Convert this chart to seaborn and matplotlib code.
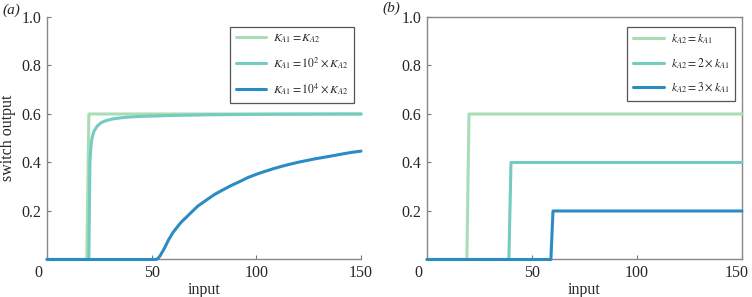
import numpy as np
import pandas as pd
import matplotlib
matplotlib.use("Agg")
import matplotlib.pyplot as plt
import matplotlib.transforms as mtransforms
import seaborn as sns

# ---- data ----
a_green_x = [0, 19, 20, 150]
a_green_y = [0, 0, 0.6, 0.6]
a_teal_x = [0, 20, 20.5, 21.0, 21.6, 22.5, 24, 26, 28, 31, 35, 40, 45, 60, 80, 110, 150]
a_teal_y = [0, 0, 0.40, 0.47, 0.505, 0.53, 0.55, 0.565, 0.572, 0.579, 0.584, 0.588, 0.59, 0.594, 0.597, 0.599, 0.6]
a_blue_x = [0, 52, 53, 54, 56, 58, 60.3, 64, 68.3, 72, 76.3, 80, 84, 88, 92.2, 96, 100.2,
            104, 108, 112, 116.1, 120, 124, 128, 132, 136, 141, 145, 150]
a_blue_y = [0, 0, 0.004, 0.015, 0.045, 0.08, 0.113, 0.153, 0.189, 0.22, 0.246, 0.268, 0.287,
            0.305, 0.322, 0.338, 0.352, 0.363, 0.374, 0.384, 0.393, 0.401, 0.408, 0.415,
            0.421, 0.427, 0.435, 0.441, 0.447]

b_green_x = [0, 19, 20, 150]
b_green_y = [0, 0, 0.6, 0.6]
b_teal_x = [0, 39, 40, 150]
b_teal_y = [0, 0, 0.4, 0.4]
b_blue_x = [0, 59, 60, 150]
b_blue_y = [0, 0, 0.2, 0.2]

labels_a = [r"$K_{A1} = K_{A2}$", r"$K_{A1} = 10^2 \times K_{A2}$", r"$K_{A1} = 10^4 \times K_{A2}$"]
labels_b = [r"$k_{A2} = k_{A1}$", r"$k_{A2} = 2 \times k_{A1}$", r"$k_{A2} = 3 \times k_{A1}$"]
xticks = [0, 50, 100, 150]
yticks = [0.2, 0.4, 0.6, 0.8, 1.0]
colors = ["#a8ddb5", "#74cbc0", "#2b8cc4"]

sns.set_style("ticks")
plt.rcParams["font.family"] = ["Liberation Serif", "DejaVu Serif"]
plt.rcParams["mathtext.fontset"] = "stix"

fig = plt.figure(figsize=(7.52, 2.97), dpi=100)
ax1 = fig.add_axes([0.0625, 0.1263, 0.4176, 0.8165])
ax2 = fig.add_axes([0.5678, 0.1263, 0.4189, 0.8165])

def shift_label(ax, idx, dx_px):
    off = mtransforms.ScaledTranslation(dx_px / 100, 0, fig.dpi_scale_trans)
    lbl = ax.get_xticklabels()[idx]
    lbl.set_transform(lbl.get_transform() + off)

def draw(ax, series, labels, box):
    for (xs, ys), lab, c in zip(series, labels, colors):
        df = pd.DataFrame({"input": xs, "out": ys})
        sns.lineplot(data=df, x="input", y="out", ax=ax, color=c, lw=2.2,
                     label=lab, sort=False, clip_on=False, zorder=3)
    ax.set_xlim(0, 150)
    ax.set_ylim(0, 1.0)
    ax.set_xticks(xticks)
    ax.set_xticklabels([str(t) for t in xticks])
    ax.set_yticks(yticks)
    ax.set_yticklabels([f"{t:.1f}" for t in yticks])
    ax.tick_params(direction="in", length=3, width=0.8, color="#777777",
                   labelsize=11.5, pad=4)
    for s in ["left", "bottom", "top", "right"]:
        ax.spines[s].set_color("#888888")
        ax.spines[s].set_linewidth(1.0)
    if not box:
        ax.spines["top"].set_visible(False)
        ax.spines["right"].set_visible(False)
    ax.set_xlabel("input", fontsize=11.5, labelpad=1)
    ax.set_ylabel("")
    shift_label(ax, 0, -9)
    leg = ax.legend(loc="upper right", bbox_to_anchor=(0.99, 0.975), fontsize=8.5,
                    frameon=True, fancybox=False, framealpha=1, edgecolor="#555555",
                    handlelength=2.6, labelspacing=0.85, borderpad=0.5, handletextpad=0.6,
                    borderaxespad=0.3)
    leg.get_frame().set_linewidth(0.9)
    ax.set_facecolor("white")

draw(ax1, [(a_green_x, a_green_y), (a_teal_x, a_teal_y), (a_blue_x, a_blue_y)], labels_a, box=False)
draw(ax2, [(b_green_x, b_green_y), (b_teal_x, b_teal_y), (b_blue_x, b_blue_y)], labels_b, box=True)
shift_label(ax2, 3, -5)

ax1.set_ylabel("switch output", fontsize=11.5, labelpad=4)
fig.text(0.003, 0.965, "(a)", fontsize=11, style="italic", ha="left", va="center")
fig.text(0.508, 0.972, "(b)", fontsize=11, style="italic", ha="left", va="center")

fig.savefig("out.png", dpi=100)
